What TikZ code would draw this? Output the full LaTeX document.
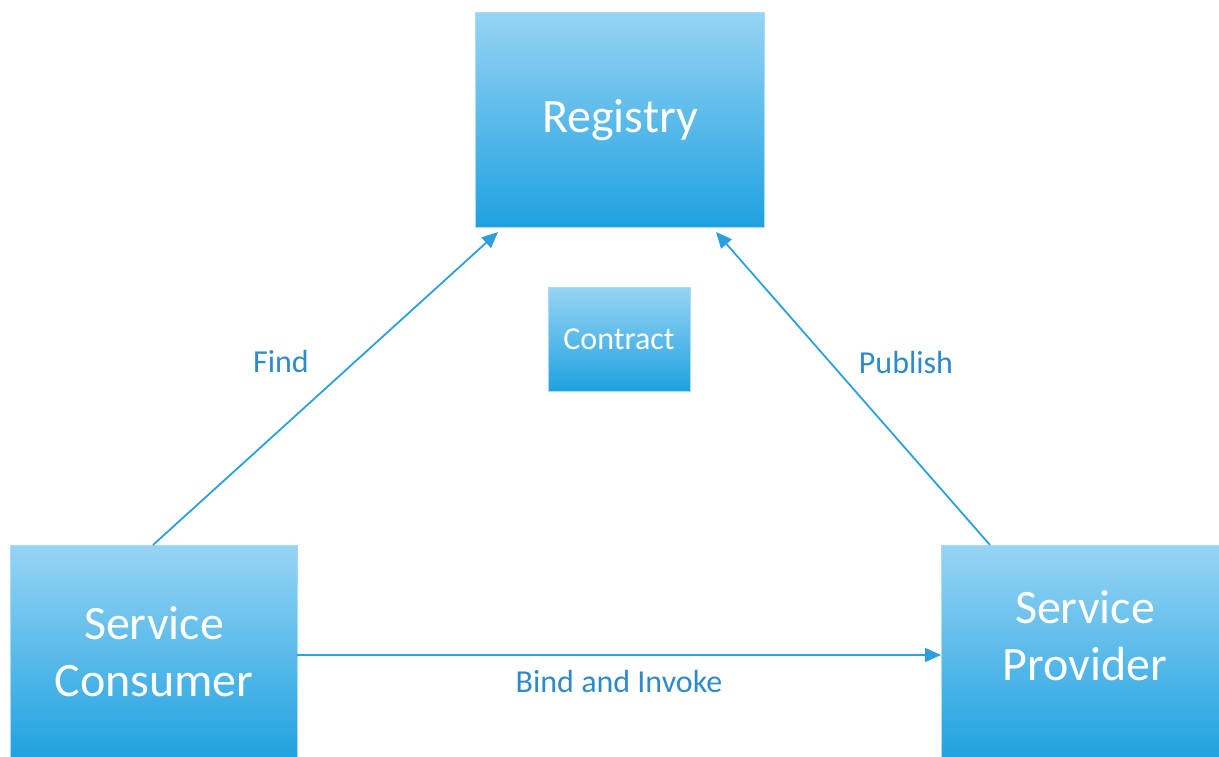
\documentclass[tikz,border=0pt]{standalone}
\usepackage{fontspec}
\setmainfont{Carlito}
\usetikzlibrary{arrows.meta}
\definecolor{boxtop}{HTML}{96D4F3}
\definecolor{boxbot}{HTML}{1FA1E0}
\definecolor{boxedge}{HTML}{A8DCF5}
\definecolor{linec}{HTML}{2BA0DD}
\definecolor{labelc}{HTML}{2E8BCB}
\tikzset{
  box/.style={draw=boxedge, line width=0.8pt, top color=boxtop, bottom color=boxbot, inner sep=0pt},
  boxtext/.style={text=white, align=center},
  conn/.style={draw=linec, line width=1.8pt, -{Triangle[length=16pt,width=14pt]}},
  lbl/.style={text=labelc, font=\fontsize{32}{38}\selectfont}
}
\begin{document}
\begin{tikzpicture}[x=1pt,y=-1pt]
\useasboundingbox (0,0) rectangle (1219,756);
\node[box, minimum width=289pt, minimum height=215pt, anchor=north west] (reg) at (475,12) {};
\node[boxtext, font=\fontsize{48}{56}\selectfont] (regt) at (620,120) {Registry};
\node[box, minimum width=142pt, minimum height=104pt, anchor=north west] (con) at (548,287) {};
\node[boxtext, font=\fontsize{32}{36}\selectfont] (cont) at (619,339) {Contract};
\node[box, minimum width=287pt, minimum height=215pt, anchor=north west] (cons) at (10,545) {};
\node[boxtext, font=\fontsize{48}{57}\selectfont] (const) at (154,652) {Service\\Consumer};
\node[box, minimum width=285pt, minimum height=215pt, anchor=north west] (prov) at (941,545) {};
\node[boxtext, font=\fontsize{48}{57}\selectfont] (provt) at (1085,636) {Service\\Provider};
\coordinate (f1) at (153,545);
\coordinate (f2) at (498,232);
\coordinate (p1) at (990,545);
\coordinate (p2) at (716,232);
\coordinate (b1) at (297,655);
\coordinate (b2) at (941,655);
\draw[conn] (f1) -- (f2);
\draw[conn] (p1) -- (p2);
\draw[conn] (b1) -- (b2);
\node[lbl] (find) at (281,361) {Find};
\node[lbl] (pub) at (906,363) {Publish};
\node[lbl] (bind) at (619,681) {Bind and Invoke};
\end{tikzpicture}
\end{document}
